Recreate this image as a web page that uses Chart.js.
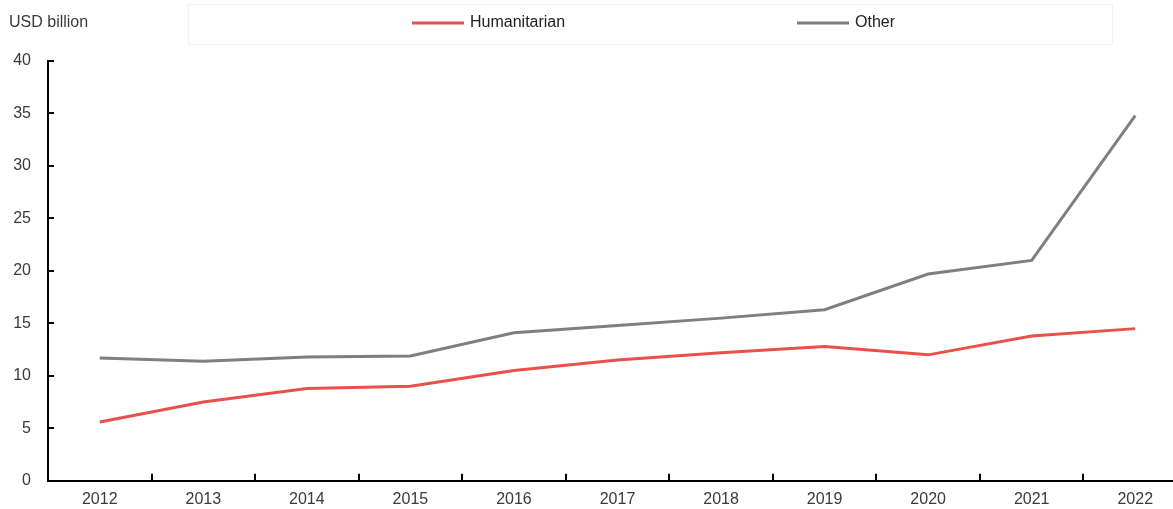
<!doctype html>
<html>

<head>
  <title>Humanitarian and other flows</title>
  <script src="https://cdn.jsdelivr.net/npm/chart.js@4.4.1/dist/chart.umd.min.js"></script>
</head>
<style>
  body {
    margin: 0;
    overflow: hidden;
    background: #fff;
    font-family: "Liberation Sans", Arial, sans-serif;
  }

  .chartContainer {
    position: relative;
    width: 1187px;
    height: 518px;
  }
</style>

<body>
  <div class="chartContainer">
    <canvas id="flowChartId"></canvas>
  </div>
  <script>
    var years = ["2012", "2013", "2014", "2015", "2016", "2017", "2018", "2019", "2020", "2021", "2022"];
    var humanitarian = [5.6, 7.5, 8.8, 9.0, 10.5, 11.5, 12.2, 12.8, 12.0, 13.8, 14.5];
    var other = [11.7, 11.4, 11.8, 11.9, 14.1, 14.8, 15.5, 16.3, 19.7, 21.0, 34.8];
    var yTicks = [0, 5, 10, 15, 20, 25, 30, 35, 40];
    var unitLabel = "USD billion";

    var textColor = "#3a3a3a";
    var fontSpec = { family: "'Liberation Sans', Arial, sans-serif", size: 16 };

    // short tick marks drawn inward from both axes
    var innerTicks = {
      id: "innerTicks",
      afterDraw: function (chart) {
        var ctx = chart.ctx;
        var area = chart.chartArea;
        var xs = chart.scales.x;
        var ys = chart.scales.y;
        ctx.save();
        ctx.strokeStyle = "#000";
        ctx.lineWidth = 2;
        ctx.beginPath();
        ys.ticks.forEach(function (t) {
          var py = Math.round(ys.getPixelForValue(t.value));
          ctx.moveTo(area.left, py);
          ctx.lineTo(area.left + 6, py);
        });
        for (var i = 0; i < years.length - 1; i++) {
          var px = Math.round((xs.getPixelForValue(i) + xs.getPixelForValue(i + 1)) / 2);
          ctx.moveTo(px, area.bottom);
          ctx.lineTo(px, area.bottom - 7);
        }
        ctx.stroke();
        ctx.restore();
      }
    };

    // unit label and legend row across the top
    var topLegend = {
      id: "topLegend",
      afterDraw: function (chart) {
        var ctx = chart.ctx;
        ctx.save();
        ctx.strokeStyle = "#f3f3f3";
        ctx.lineWidth = 1;
        ctx.strokeRect(188.5, 4.5, 924, 40);
        ctx.font = "16px 'Liberation Sans', Arial, sans-serif";
        ctx.textBaseline = "middle";
        ctx.fillStyle = textColor;
        ctx.fillText(unitLabel, 9, 23);
        var slots = [412, 797];
        chart.data.datasets.forEach(function (ds, i) {
          var x0 = slots[i];
          ctx.strokeStyle = ds.borderColor;
          ctx.lineWidth = 3;
          ctx.beginPath();
          ctx.moveTo(x0, 23);
          ctx.lineTo(x0 + 52, 23);
          ctx.stroke();
          ctx.fillStyle = "#222";
          ctx.fillText(ds.label, x0 + 58, 23);
        });
        ctx.restore();
      }
    };

    var ctx = document.getElementById("flowChartId").getContext("2d");
    var flowChart = new Chart(ctx, {
      type: "line",
      data: {
        labels: years,
        datasets: [{
          label: "Humanitarian",
          data: humanitarian,
          borderColor: "#e9504b",
          borderWidth: 3,
          pointRadius: 0,
          fill: false,
          tension: 0
        }, {
          label: "Other",
          data: other,
          borderColor: "#7f7f7f",
          borderWidth: 3,
          pointRadius: 0,
          fill: false,
          tension: 0
        }]
      },
      options: {
        responsive: true,
        maintainAspectRatio: false,
        animation: false,
        layout: { padding: { top: 61, right: 0, left: 0, bottom: 0 } },
        plugins: {
          legend: { display: false },
          tooltip: { enabled: false }
        },
        scales: {
          x: {
            offset: true,
            grid: { display: false, drawTicks: false },
            border: { display: true, color: "#000", width: 2 },
            ticks: { color: textColor, font: fontSpec, padding: 9, maxRotation: 0, autoSkip: false }
          },
          y: {
            min: 0,
            max: 40,
            afterBuildTicks: function (s) {
              s.ticks = yTicks.map(function (v) { return { value: v }; });
            },
            grid: { display: false, drawTicks: false },
            border: { display: true, color: "#000", width: 2 },
            ticks: { color: textColor, font: fontSpec, padding: 17 },
            afterFit: function (s) { s.width = 48; }
          }
        }
      },
      plugins: [innerTicks, topLegend]
    });
  </script>
</body>

</html>
